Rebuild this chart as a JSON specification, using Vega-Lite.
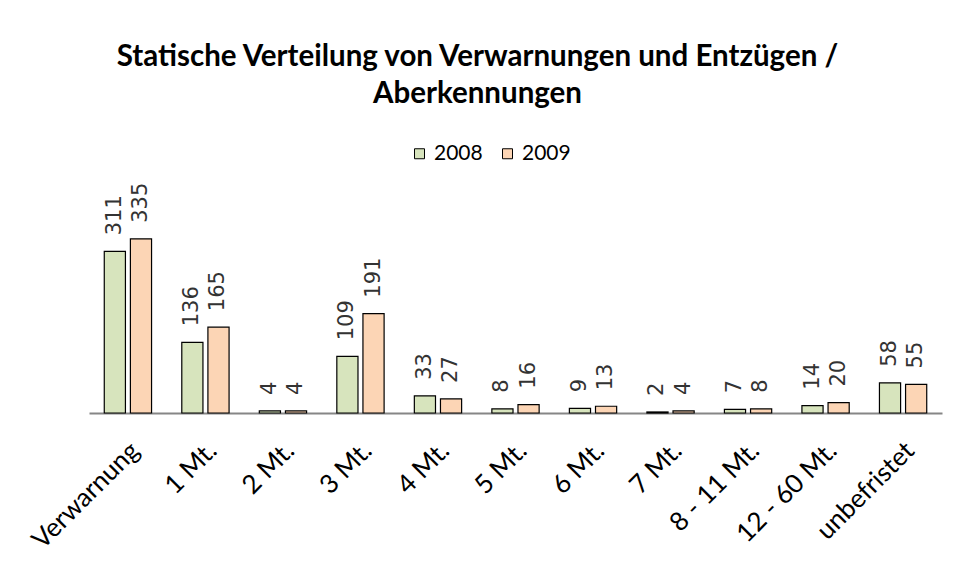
{
  "$schema": "https://vega.github.io/schema/vega-lite/v6.json",
  "width": 853,
  "height": 208,
  "autosize": {"type": "none"},
  "padding": {"left": 89, "top": 205, "right": 16, "bottom": 166},
  "background": "white",
  "title": {
    "text": ["Statische Verteilung von Verwarnungen und Entzügen /", "Aberkennungen"],
    "font": "Lato",
    "fontSize": 29.5,
    "fontWeight": "bold",
    "color": "black",
    "anchor": "middle",
    "dx": -38,
    "lineHeight": 37,
    "offset": 34
  },
  "config": {"view": {"stroke": null}},
  "data": {
    "values": [
      {"Kategorie": "Verwarnung", "Jahr": "2008", "Anzahl": 311},
      {"Kategorie": "Verwarnung", "Jahr": "2009", "Anzahl": 335},
      {"Kategorie": "1 Mt.", "Jahr": "2008", "Anzahl": 136},
      {"Kategorie": "1 Mt.", "Jahr": "2009", "Anzahl": 165},
      {"Kategorie": "2 Mt.", "Jahr": "2008", "Anzahl": 4},
      {"Kategorie": "2 Mt.", "Jahr": "2009", "Anzahl": 4},
      {"Kategorie": "3 Mt.", "Jahr": "2008", "Anzahl": 109},
      {"Kategorie": "3 Mt.", "Jahr": "2009", "Anzahl": 191},
      {"Kategorie": "4 Mt.", "Jahr": "2008", "Anzahl": 33},
      {"Kategorie": "4 Mt.", "Jahr": "2009", "Anzahl": 27},
      {"Kategorie": "5 Mt.", "Jahr": "2008", "Anzahl": 8},
      {"Kategorie": "5 Mt.", "Jahr": "2009", "Anzahl": 16},
      {"Kategorie": "6 Mt.", "Jahr": "2008", "Anzahl": 9},
      {"Kategorie": "6 Mt.", "Jahr": "2009", "Anzahl": 13},
      {"Kategorie": "7 Mt.", "Jahr": "2008", "Anzahl": 2},
      {"Kategorie": "7 Mt.", "Jahr": "2009", "Anzahl": 4},
      {"Kategorie": "8 - 11 Mt.", "Jahr": "2008", "Anzahl": 7},
      {"Kategorie": "8 - 11 Mt.", "Jahr": "2009", "Anzahl": 8},
      {"Kategorie": "12 - 60 Mt.", "Jahr": "2008", "Anzahl": 14},
      {"Kategorie": "12 - 60 Mt.", "Jahr": "2009", "Anzahl": 20},
      {"Kategorie": "unbefristet", "Jahr": "2008", "Anzahl": 58},
      {"Kategorie": "unbefristet", "Jahr": "2009", "Anzahl": 55}
    ]
  },
  "encoding": {
    "x": {
      "field": "Kategorie",
      "type": "nominal",
      "sort": ["Verwarnung", "1 Mt.", "2 Mt.", "3 Mt.", "4 Mt.", "5 Mt.", "6 Mt.", "7 Mt.", "8 - 11 Mt.", "12 - 60 Mt.", "unbefristet"],
      "scale": {"paddingInner": 0.39, "paddingOuter": 0.197},
      "axis": {
        "title": null,
        "labelAngle": -45,
        "labelFont": "Lato",
        "labelFontSize": 26,
        "labelColor": "black",
        "ticks": false,
        "domainColor": "#868686",
        "domainWidth": 2,
        "labelPadding": 24,
        "labelOffset": -2
      }
    },
    "xOffset": {"field": "Jahr", "type": "nominal", "scale": {"paddingInner": 0.19, "paddingOuter": 0}},
    "y": {"field": "Anzahl", "type": "quantitative", "scale": {"domain": [0, 400]}, "axis": null}
  },
  "layer": [
    {
      "mark": {"type": "bar", "stroke": "black", "strokeWidth": 1.2},
      "encoding": {
        "color": {
          "field": "Jahr",
          "type": "nominal",
          "scale": {"domain": ["2008", "2009"], "range": ["#D7E4BD", "#FCD5B5"]},
          "legend": {
            "orient": "none",
            "legendX": 320,
            "legendY": -62,
            "direction": "horizontal",
            "title": null,
            "symbolType": "square",
            "symbolSize": 100,
            "symbolStrokeColor": "black",
            "symbolStrokeWidth": 1,
            "symbolOpacity": 1,
            "labelFont": "Lato",
            "labelFontSize": 21,
            "labelColor": "black",
            "labelOffset": 4,
            "columnPadding": 14
          }
        }
      }
    },
    {
      "mark": {"type": "text", "angle": 270, "align": "left", "baseline": "middle", "dx": 16, "font": "DejaVu Sans", "fontSize": 21, "color": "#333333"},
      "encoding": {"text": {"field": "Anzahl", "type": "quantitative"}}
    }
  ]
}
